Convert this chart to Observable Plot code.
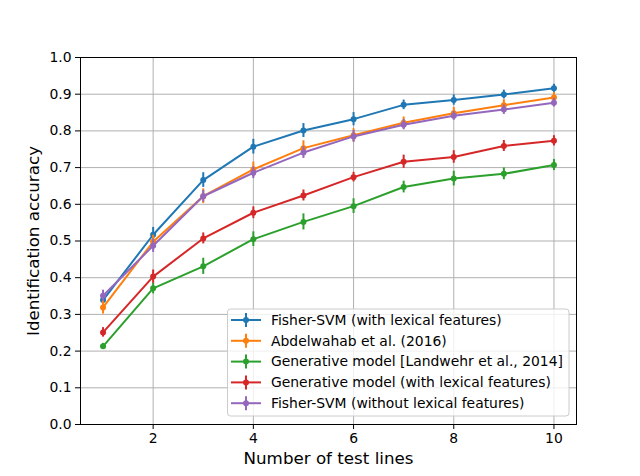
<!DOCTYPE html>
<html>
<head>
<meta charset="utf-8">
<script src="https://cdn.jsdelivr.net/npm/d3@7"></script>
<script src="https://cdn.jsdelivr.net/npm/@observablehq/plot@0.6"></script>
<style>
  html, body { margin: 0; padding: 0; background: #fff; }
  #chart { position: relative; width: 640px; height: 476px; }
</style>
</head>
<body>
<div id="chart"></div>
<script>
const testLines = [1, 2, 3, 4, 5, 6, 7, 8, 9, 10];
const seriesNames = [
  "Fisher-SVM (with lexical features)",
  "Abdelwahab et al. (2016)",
  "Generative model [Landwehr et al., 2014]",
  "Generative model (with lexical features)",
  "Fisher-SVM (without lexical features)"
];
const seriesColors = ["#1f77b4", "#ff7f0e", "#2ca02c", "#d62728", "#9467bd"];

const fisherLex      = [0.339, 0.517, 0.666, 0.757, 0.801, 0.832, 0.871, 0.884, 0.899, 0.916];
const abdelwahab     = [0.319, 0.498, 0.622, 0.695, 0.753, 0.788, 0.822, 0.848, 0.870, 0.891];
const generative     = [0.213, 0.371, 0.431, 0.505, 0.552, 0.595, 0.647, 0.670, 0.683, 0.707];
const generativeLex  = [0.251, 0.403, 0.507, 0.577, 0.624, 0.674, 0.716, 0.729, 0.759, 0.773];
const fisherNoLex    = [0.351, 0.487, 0.622, 0.686, 0.741, 0.785, 0.817, 0.841, 0.858, 0.877];

const fisherLexErr     = [0.010, 0.020, 0.020, 0.020, 0.019, 0.018, 0.013, 0.014, 0.012, 0.011];
const abdelwahabErr    = [0.018, 0.018, 0.020, 0.020, 0.020, 0.018, 0.016, 0.016, 0.015, 0.014];
const generativeErr    = [0.008, 0.015, 0.022, 0.020, 0.022, 0.020, 0.016, 0.020, 0.016, 0.015];
const generativeLexErr = [0.013, 0.018, 0.015, 0.016, 0.015, 0.013, 0.018, 0.017, 0.015, 0.014];
const fisherNoLexErr   = [0.015, 0.018, 0.016, 0.016, 0.016, 0.016, 0.014, 0.012, 0.013, 0.012];

const xTicks = [2, 4, 6, 8, 10];
const yTicks = [0, 0.1, 0.2, 0.3, 0.4, 0.5, 0.6, 0.7, 0.8, 0.9, 1.0];

const values = [fisherLex, abdelwahab, generative, generativeLex, fisherNoLex];
const errors = [fisherLexErr, abdelwahabErr, generativeErr, generativeLexErr, fisherNoLexErr];

const seriesData = seriesNames.map((name, i) =>
  testLines.map((x, j) => ({
    series: name, x, y: values[i][j],
    lo: values[i][j] - errors[i][j], hi: values[i][j] + errors[i][j]
  }))
);

const seriesMarks = seriesData.flatMap((data, i) => [
  Plot.line(data, {x: "x", y: "y", stroke: seriesColors[i], strokeWidth: 2}),
  Plot.ruleX(data, {x: "x", y1: "lo", y2: "hi", stroke: seriesColors[i], strokeWidth: 2}),
  Plot.dot(data, {x: "x", y: "y", r: 3, fill: seriesColors[i], stroke: "none"})
]);

const plot = Plot.plot({
  width: 640,
  height: 476,
  marginLeft: 80,
  marginRight: 64,
  marginTop: 57,
  marginBottom: 52,
  style: {fontFamily: "DejaVu Sans", fontSize: "13.9px", color: "#000", background: "#fff"},
  x: {domain: [0.55, 10.45]},
  y: {domain: [0, 1]},
  marks: [
    Plot.gridX(xTicks, {stroke: "#b0b0b0", strokeOpacity: 1, strokeWidth: 1}),
    Plot.gridY(yTicks, {stroke: "#b0b0b0", strokeOpacity: 1, strokeWidth: 1}),
    Plot.axisX(xTicks, {tickSize: 5, tickPadding: 4, label: null, stroke: "#000", fill: "#000"}),
    Plot.axisY(yTicks, {tickSize: 5, tickPadding: 4, label: null, tickFormat: d3.format(".1f"), stroke: "#000", fill: "#000"}),
    ...seriesMarks,
    Plot.frame({stroke: "#000", strokeWidth: 1}),
    Plot.text(["Number of test lines"], {frameAnchor: "bottom", dy: 39, fontSize: 16.7, fill: "#000", textAnchor: "middle"}),
    Plot.text(["Identification accuracy"], {frameAnchor: "left", dx: -47, rotate: -90, fontSize: 16.7, fill: "#000", textAnchor: "middle"})
  ]
});

document.getElementById("chart").appendChild(plot);

// Legend inside the plot area
const svg = d3.select(plot);
const lg = svg.append("g").attr("font-family", "DejaVu Sans").attr("font-size", 13.9).attr("text-anchor", "start");
lg.append("rect")
  .attr("x", 227.5).attr("y", 309).attr("width", 341.5).attr("height", 107).attr("rx", 3)
  .attr("fill", "#fff").attr("fill-opacity", 0.8).attr("stroke", "#cccccc");
seriesNames.forEach((name, i) => {
  const cy = 320 + i * 20.8;
  const g = lg.append("g");
  g.append("line").attr("x1", 231).attr("x2", 261).attr("y1", cy).attr("y2", cy)
    .attr("stroke", seriesColors[i]).attr("stroke-width", 2);
  g.append("line").attr("x1", 246).attr("x2", 246).attr("y1", cy - 7).attr("y2", cy + 7)
    .attr("stroke", seriesColors[i]).attr("stroke-width", 2);
  g.append("circle").attr("cx", 246).attr("cy", cy).attr("r", 3).attr("fill", seriesColors[i]);
  g.append("text").attr("x", 271).attr("y", cy).attr("dy", "0.35em").attr("fill", "#000").attr("text-anchor", "start").text(name);
});
</script>
</body>
</html>
